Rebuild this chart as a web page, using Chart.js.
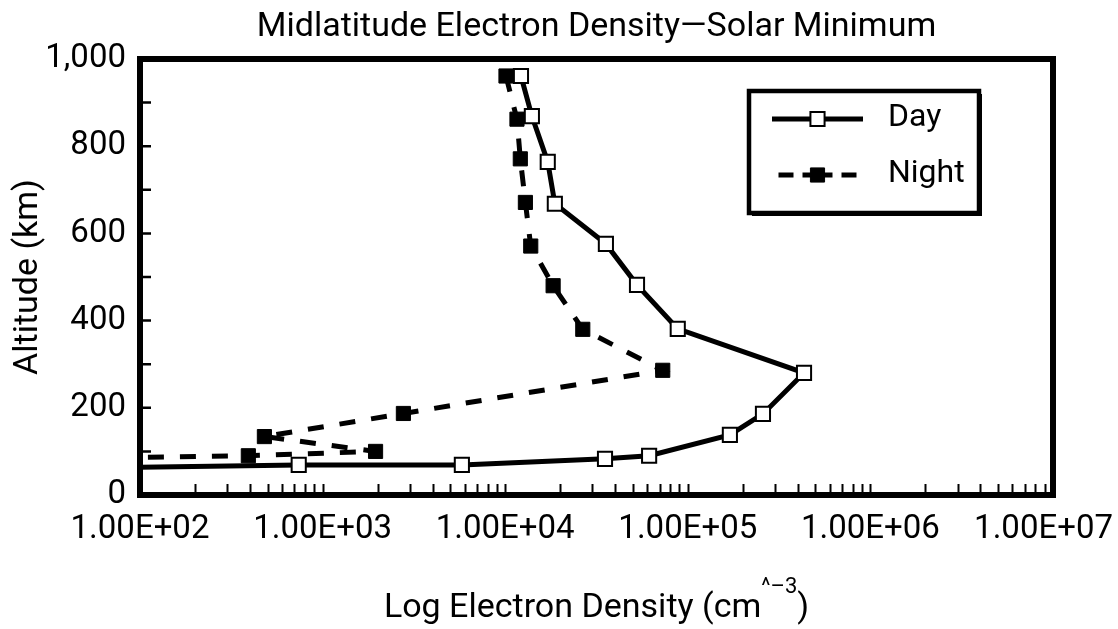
<!DOCTYPE html>
<html>
<head>
<meta charset="utf-8">
<title>Midlatitude Electron Density</title>
<script src="https://cdn.jsdelivr.net/npm/chart.js@4.4.1/dist/chart.umd.min.js"></script>
<style>
  html, body { margin: 0; padding: 0; background: #fff; }
</style>
</head>
<body>
<canvas id="densityChart" width="1118" height="629"></canvas>
<script>
// Electron density (cm^-3) vs altitude (km), solar minimum.
// The last point of each profile sits below 1e2 so the line runs off the left edge.
const dayDensity  = [12200, 14000, 17100, 18700, 35600, 52700, 88100, 433000, 258000, 170000, 61400, 35200, 5790, 740, 10];
const dayAltitude = [961, 869, 764, 668, 576, 482, 381, 280, 186, 138, 90, 83, 69, 69, 57];

const nightDensity  = [10100, 11600, 12100, 12900, 13800, 18300, 26600, 72900, 2770, 480, 1950, 392, 10];
const nightAltitude = [961, 862, 771, 671, 571, 480, 380, 286, 187, 134, 100, 90, 80];

const xTickValues = [1e2, 1e3, 1e4, 1e5, 1e6, 1e7];
const xTickLabels = ['1.00E+02', '1.00E+03', '1.00E+04', '1.00E+05', '1.00E+06', '1.00E+07'];
const yTickValues = [0, 200, 400, 600, 800, 1000];
const yTickLabels = ['0', '200', '400', '600', '800', '1,000'];

function toPoints(xs, ys) {
  return xs.map((x, i) => ({ x: x, y: ys[i] }));
}

Chart.defaults.font.family = 'Roboto, "Liberation Sans", sans-serif';
Chart.defaults.color = '#000';

// keep the last x label inside the canvas
const lastLabelInside = {
  id: 'lastLabelInside',
  beforeDraw(chart) {
    const items = chart.scales.x.getLabelItems();
    const last = items[items.length - 1];
    if (!last || last._shifted) return;
    const ctx = chart.ctx;
    ctx.save();
    ctx.font = last.font.string;
    const half = ctx.measureText(last.label).width / 2;
    ctx.restore();
    const over = last.options.translation[0] + half - (chart.width - 5);
    if (over > 0) last.options.translation[0] -= over;
    last._shifted = true;
  }
};

// frame around the plot plus the short inside tick marks
const plotFrame = {
  id: 'plotFrame',
  afterDatasetsDraw(chart) {
    const { ctx, chartArea: a, scales } = chart;
    const xs = scales.x, ys = scales.y;
    ctx.save();
    ctx.strokeStyle = '#000';
    ctx.setLineDash([]);

    // log minor ticks along the bottom
    ctx.lineWidth = 2;
    ctx.beginPath();
    for (let d = xs.min; d < xs.max; d *= 10) {
      for (let m = 1; m <= 9; m++) {
        const v = d * m;
        if (v <= xs.min) continue;
        const px = Math.round(xs.getPixelForValue(v)) + 0.5;
        ctx.moveTo(px, a.bottom);
        ctx.lineTo(px, a.bottom - 11);
      }
    }
    ctx.stroke();

    // every 100 km on the left
    ctx.lineWidth = 2.5;
    ctx.beginPath();
    for (let v = ys.min + 100; v < ys.max; v += 100) {
      const py = ys.getPixelForValue(v);
      ctx.moveTo(a.left, py);
      ctx.lineTo(a.left + 11, py);
    }
    ctx.stroke();

    ctx.lineWidth = 6;
    ctx.strokeRect(a.left, a.top, a.right - a.left, a.bottom - a.top);
    ctx.restore();
  }
};

// x axis title, drawn by hand for the superscript
const xAxisTitle = {
  id: 'xAxisTitle',
  afterDraw(chart) {
    const { ctx, chartArea: a } = chart;
    const main = 'Log Electron Density (cm';
    const sup = '^\u20133';
    const tail = ')';
    const big = '34px Roboto, "Liberation Sans", sans-serif';
    const small = '22px Roboto, "Liberation Sans", sans-serif';
    ctx.save();
    ctx.fillStyle = '#000';
    ctx.textBaseline = 'alphabetic';
    ctx.textAlign = 'left';
    ctx.font = big;
    const w1 = ctx.measureText(main).width;
    const w3 = ctx.measureText(tail).width;
    ctx.font = small;
    const w2 = ctx.measureText(sup).width;
    let x = (a.left + a.right) / 2 - (w1 + w2 + w3) / 2;
    const base = 617;
    ctx.font = big;
    ctx.fillText(main, x, base);
    x += w1;
    ctx.font = small;
    ctx.fillText(sup, x, base - 24);
    x += w2;
    ctx.font = big;
    ctx.fillText(tail, x, base);
    ctx.restore();
  }
};

// boxed legend with a drop shadow
const legendBox = {
  id: 'legendBox',
  afterDraw(chart) {
    const ctx = chart.ctx;
    const x = 749, y = 91, w = 230, h = 122;
    ctx.save();
    ctx.fillStyle = '#000';
    ctx.fillRect(x + 3, y + 3, w, h);
    ctx.fillStyle = '#fff';
    ctx.fillRect(x, y, w, h);
    ctx.strokeStyle = '#000';
    ctx.lineWidth = 4.5;
    ctx.strokeRect(x, y, w, h);

    chart.data.datasets.forEach((ds, i) => {
      const yy = y + 28 + i * 56;
      const x0 = x + 23, x1 = x + 114, cx = (x0 + x1) / 2;
      ctx.strokeStyle = ds.borderColor;
      ctx.lineWidth = ds.borderWidth;
      ctx.setLineDash(ds.borderDash ? [15, 9] : []);
      // draw each half from the marker outwards so the dashes are symmetric
      ctx.beginPath();
      ctx.moveTo(cx, yy); ctx.lineTo(x0, yy);
      ctx.moveTo(cx, yy); ctx.lineTo(x1, yy);
      ctx.stroke();
      ctx.setLineDash([]);
      ctx.fillStyle = ds.pointBackgroundColor;
      ctx.strokeStyle = ds.pointBorderColor;
      ctx.lineWidth = ds.pointBorderWidth;
      Chart.helpers.drawPoint(ctx, {
        pointStyle: 'rect', rotation: 0,
        radius: ds.pointRadius, borderWidth: ds.pointBorderWidth
      }, cx, yy);
      ctx.fillStyle = '#000';
      ctx.font = '32px Roboto, "Liberation Sans", sans-serif';
      ctx.textBaseline = 'middle';
      ctx.textAlign = 'left';
      ctx.fillText(ds.label, x + 139, yy - 1);
    });
    ctx.restore();
  }
};

const ctx = document.getElementById('densityChart').getContext('2d');

new Chart(ctx, {
  type: 'scatter',
  data: {
    datasets: [
      {
        label: 'Day',
        data: toPoints(dayDensity, dayAltitude),
        showLine: true,
        borderColor: '#000',
        borderWidth: 5,
        pointStyle: 'rect',
        pointRadius: 10,
        pointBorderWidth: 2,
        pointBackgroundColor: '#fff',
        pointBorderColor: '#000',
        clip: 0
      },
      {
        label: 'Night',
        data: toPoints(nightDensity, nightAltitude),
        showLine: true,
        borderColor: '#000',
        borderWidth: 5,
        borderDash: [16, 16],
        pointStyle: 'rect',
        pointRadius: 10,
        pointBorderWidth: 1,
        pointBackgroundColor: '#000',
        pointBorderColor: '#000',
        clip: 0
      }
    ]
  },
  options: {
    responsive: false,
    devicePixelRatio: 1,
    animation: false,
    layout: { padding: { left: 0, right: 65, top: 0, bottom: 0 } },
    scales: {
      x: {
        type: 'logarithmic',
        position: 'bottom',
        min: 1e2,
        max: 1e7,
        grid: { display: false, drawTicks: false, tickLength: 0 },
        border: { display: false },
        afterBuildTicks(scale) {
          scale.ticks = xTickValues.map(v => ({ value: v }));
        },
        afterFit(scale) {
          scale.height = 134;
          scale.paddingLeft = 0;
          scale.paddingRight = 0;
        },
        ticks: {
          autoSkip: false,
          maxRotation: 0,
          padding: 15,
          font: { size: 33 },
          callback: (value, index) => xTickLabels[index]
        }
      },
      y: {
        type: 'linear',
        min: 0,
        max: 1000,
        grid: { display: false, drawTicks: false, tickLength: 0 },
        border: { display: false },
        afterBuildTicks(scale) {
          scale.ticks = yTickValues.map(v => ({ value: v }));
        },
        afterFit(scale) {
          scale.width = 140;
        },
        ticks: {
          padding: 14,
          font: { size: 33 },
          callback: (value, index) => yTickLabels[index]
        },
        title: {
          display: true,
          text: 'Altitude (km)',
          font: { size: 34 },
          padding: { top: 8, bottom: 0 }
        }
      }
    },
    plugins: {
      legend: { display: false },
      tooltip: { enabled: false },
      title: {
        display: true,
        fullSize: false,
        text: 'Midlatitude Electron Density\u2014Solar Minimum',
        font: { size: 34, weight: 'normal' },
        color: '#000',
        padding: { top: 7, bottom: 11.2 }
      }
    }
  },
  plugins: [lastLabelInside, plotFrame, xAxisTitle, legendBox]
});
</script>
</body>
</html>
